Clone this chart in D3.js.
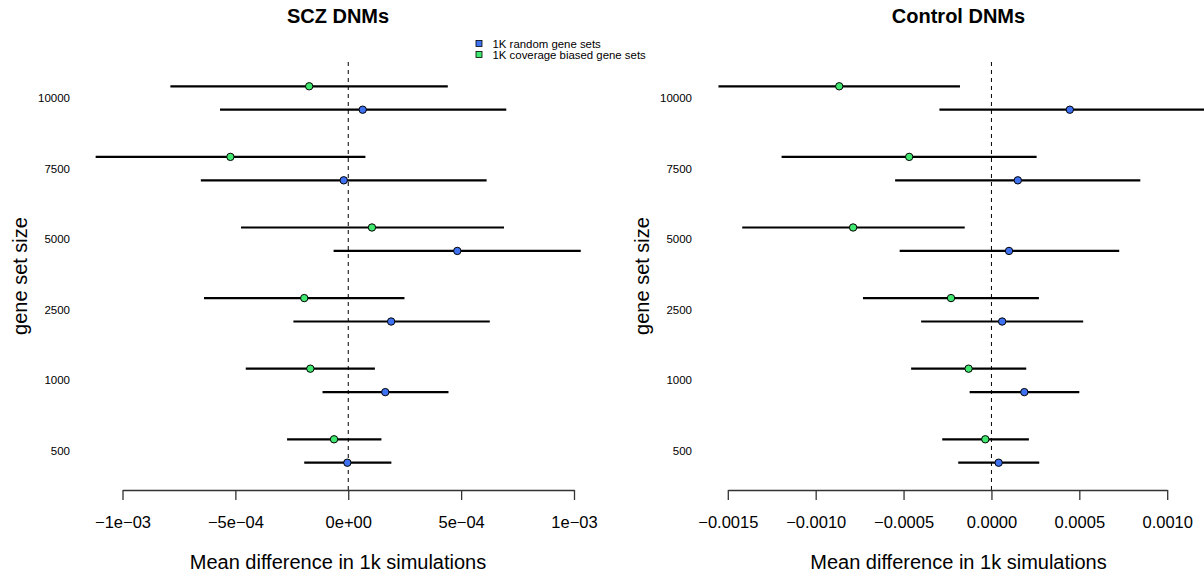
<!DOCTYPE html>
<html>
<head>
<meta charset="utf-8">
<script src="https://cdn.jsdelivr.net/npm/d3@7"></script>
<style>
  body { margin: 0; background: #fff; }
  svg { display: block; font-family: "Liberation Sans", Arial, Helvetica, sans-serif; }
</style>
</head>
<body>
<div class="chart"></div>
<script>
// gene set sizes, bottom to top
var sizes = ["500", "1000", "2500", "5000", "7500", "10000"];
var unit = 1e-4;

// SCZ DNMs (values in units of 1e-4)
var sczRandMean  = [-0.04, 1.64, 1.90, 4.83, -0.20, 0.64];
var sczRandLo    = [-1.95, -1.14, -2.43, -0.65, -6.53, -5.68];
var sczRandHi    = [1.91, 4.44, 6.27, 10.30, 6.13, 7.00];
var sczCovMean   = [-0.63, -1.68, -1.95, 1.05, -5.22, -1.73];
var sczCovLo     = [-2.71, -4.54, -6.39, -4.75, -11.19, -7.88];
var sczCovHi     = [1.47, 1.18, 2.49, 6.90, 0.76, 4.41];

// Control DNMs
var ctlRandMean  = [0.41, 1.87, 0.61, 1.00, 1.50, 4.46];
var ctlRandLo    = [-1.89, -1.24, -4.00, -5.22, -5.48, -2.96];
var ctlRandHi    = [2.72, 5.00, 5.22, 7.27, 8.47, 12.30];
var ctlCovMean   = [-0.35, -1.30, -2.30, -7.87, -4.68, -8.66];
var ctlCovLo     = [-2.80, -4.57, -7.31, -14.18, -11.94, -15.53];
var ctlCovHi     = [2.13, 1.98, 2.70, -1.52, 2.57, -1.79];

var sczTicks = [-1e-3, -5e-4, 0, 5e-4, 1e-3];
var sczTickLabels = ["\u22121e\u221203", "\u22125e\u221204", "0e+00", "5e\u221204", "1e\u221203"];
var ctlTicks = [-0.0015, -0.0010, -0.0005, 0, 0.0005, 0.0010];
var ctlTickLabels = ["\u22120.0015", "\u22120.0010", "\u22120.0005", "0.0000", "0.0005", "0.0010"];

var seriesNames = ["1K random gene sets", "1K coverage biased gene sets"];
var blue = "#3f72f2", green = "#40e870";

var W = 1204, H = 575;
var svg = d3.select(".chart").append("svg")
  .attr("width", W).attr("height", H);

var yScale = d3.scaleLinear().domain([0, sizes.length - 1]).range([451, 98]);
var plotTop = 62, plotBottom = 490;
var offset = 0.166;

function panel(opts) {
  var g = svg.append("g");
  var x = d3.scaleLinear().domain(opts.domain).range(opts.range);

  // title
  g.append("text")
    .attr("x", opts.center).attr("y", 23)
    .attr("text-anchor", "middle")
    .style("font-weight", "bold").style("font-size", "20px")
    .text(opts.title);

  // zero line
  g.append("line")
    .attr("x1", x(0)).attr("x2", x(0))
    .attr("y1", plotTop).attr("y2", plotBottom)
    .attr("stroke", "#000").attr("stroke-width", 1)
    .attr("stroke-dasharray", "4,4");

  // y labels
  g.selectAll(".ylab").data(sizes).enter().append("text")
    .attr("x", opts.ylabX)
    .attr("y", function(d, i) { return yScale(i); })
    .attr("dy", "0.35em")
    .attr("text-anchor", "end")
    .style("font-size", "11.5px")
    .text(function(d) { return d; });

  g.append("text")
    .attr("transform", "translate(" + opts.ytitleX + "," + ((plotTop + plotBottom) / 2) + ") rotate(-90)")
    .attr("text-anchor", "middle")
    .style("font-size", "20px")
    .text("gene set size");

  var sets = [
    { mean: opts.covMean, lo: opts.covLo, hi: opts.covHi, color: green, off: offset },
    { mean: opts.randMean, lo: opts.randLo, hi: opts.randHi, color: blue, off: -offset }
  ];

  sets.forEach(function(s) {
    var rows = sizes.map(function(d, i) {
      return { i: i, mean: s.mean[i] * unit, lo: s.lo[i] * unit, hi: s.hi[i] * unit };
    });
    g.selectAll(null).data(rows).enter().append("line")
      .attr("x1", function(d) { return x(d.lo); })
      .attr("x2", function(d) { return x(d.hi); })
      .attr("y1", function(d) { return yScale(d.i + s.off); })
      .attr("y2", function(d) { return yScale(d.i + s.off); })
      .attr("stroke", "#000").attr("stroke-width", 2.2);
    g.selectAll(null).data(rows).enter().append("circle")
      .attr("cx", function(d) { return x(d.mean); })
      .attr("cy", function(d) { return yScale(d.i + s.off); })
      .attr("r", 3.7)
      .attr("fill", s.color)
      .attr("stroke", "#000").attr("stroke-width", 1);
  });

  // x axis
  var xAxis = d3.axisBottom(x)
    .tickValues(opts.ticks)
    .tickFormat(function(d, i) { return opts.tickLabels[i]; })
    .tickSize(10).tickSizeOuter(0).tickPadding(16);
  var ax = g.append("g")
    .attr("transform", "translate(0," + plotBottom + ")")
    .call(xAxis);
  ax.selectAll("path, line").attr("stroke", "#333").attr("stroke-width", 1.3);
  ax.selectAll("text").attr("fill", "#000")
    .style("font-size", "16.5px")
    .style("font-family", "\"Liberation Sans\", Arial, sans-serif");

  g.append("text")
    .attr("x", opts.center).attr("y", 569)
    .attr("text-anchor", "middle")
    .style("font-size", "20px")
    .text("Mean difference in 1k simulations");
}

panel({
  title: "SCZ DNMs", center: 338,
  domain: [-1e-3, 1e-3], range: [122.5, 574],
  ticks: sczTicks, tickLabels: sczTickLabels,
  ylabX: 70, ytitleX: 27,
  randMean: sczRandMean, randLo: sczRandLo, randHi: sczRandHi,
  covMean: sczCovMean, covLo: sczCovLo, covHi: sczCovHi
});

panel({
  title: "Control DNMs", center: 958.5,
  domain: [-0.0015, 0.0010], range: [727.8, 1167.2],
  ticks: ctlTicks, tickLabels: ctlTickLabels,
  ylabX: 692, ytitleX: 649,
  randMean: ctlRandMean, randLo: ctlRandLo, randHi: ctlRandHi,
  covMean: ctlCovMean, covLo: ctlCovLo, covHi: ctlCovHi
});

// legend
var legend = svg.append("g").attr("transform", "translate(476,43.5)");
var li = legend.selectAll("g").data(seriesNames).enter().append("g")
  .attr("transform", function(d, i) { return "translate(0," + (i * 11) + ")"; });
li.append("rect")
  .attr("x", 0).attr("y", -3).attr("width", 6).attr("height", 6)
  .attr("fill", function(d, i) { return i === 0 ? blue : green; })
  .attr("stroke", "#000").attr("stroke-width", 0.8);
li.append("text")
  .attr("x", 16.5).attr("dy", "0.35em")
  .style("font-size", "11.4px")
  .text(function(d) { return d; });
</script>
</body>
</html>
